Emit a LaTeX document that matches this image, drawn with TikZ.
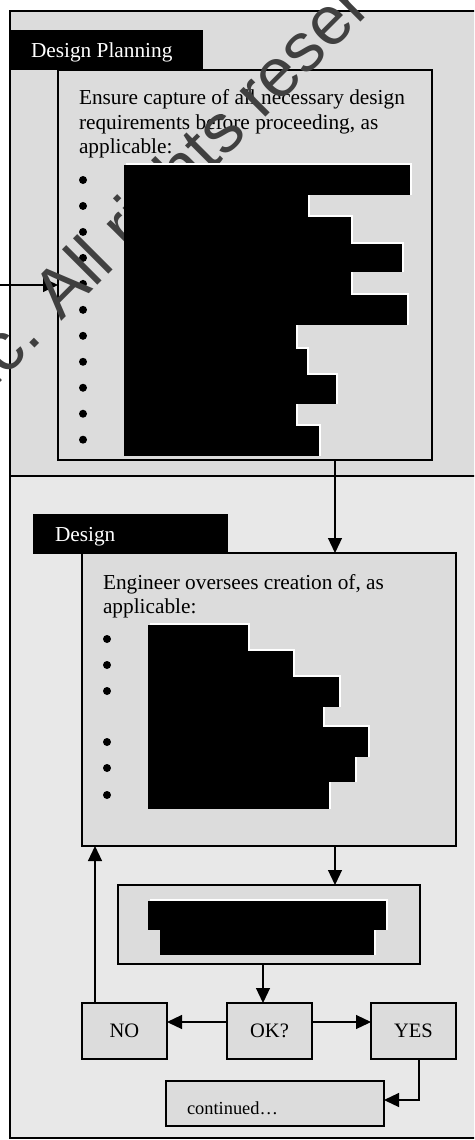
\documentclass[tikz,border=0pt]{standalone}
\usepackage{fontspec}
\setmainfont{Liberation Serif}
\newfontfamily\wmfont{Liberation Sans}
\usetikzlibrary{arrows.meta}
\definecolor{panelA}{HTML}{DCDCDC}
\definecolor{panelB}{HTML}{E8E8E8}
\definecolor{boxfill}{HTML}{DCDCDC}
\definecolor{wmark}{HTML}{404040}
\begin{document}
\begin{tikzpicture}[x=1pt,y=-1pt,
  every node/.style={font=\fontsize{21.3}{24.5}\selectfont},
  box/.style={draw=black, line width=1.2pt, fill=boxfill, inner sep=0pt, outer sep=0pt, rectangle},
  arr/.style={line width=1.2pt, -{Triangle[length=15pt,width=14pt]}},
  hdr/.style={fill=black, inner sep=0pt, outer sep=0pt, rectangle, anchor=north west},
  txt/.style={anchor=base west, inner sep=0pt, outer sep=0pt},
  bul/.style={circle, fill=black, inner sep=0pt, minimum size=8pt},
  small/.style={font=\fontsize{20.5}{24}\selectfont},
  panel/.style={line width=1.3pt},
]
\useasboundingbox (0,0) rectangle (474,1140);
\clip (0,0) rectangle (474,1140);

% panels
\fill[panelA] (10,11) rectangle (480,476);
\fill[panelB] (10,476) rectangle (480,1138);
\draw[panel] (480,11) -- (10,11) -- (10,1138) -- (480,1138);
\draw[panel] (10,476) -- (480,476);

% boxes
\node[box, minimum width=374pt, minimum height=390pt] (b1) at (245,265) {};
\node[box, minimum width=374pt, minimum height=293pt] (b2) at (269,699.5) {};
\node[box, minimum width=302pt, minimum height=79pt] (b3) at (269,924.5) {};
\node[box, small, minimum width=85pt, minimum height=56pt] (no) at (124.5,1031) {NO};
\node[box, small, minimum width=85pt, minimum height=56pt] (ok) at (269.5,1031) {OK?};
\node[box, small, minimum width=85pt, minimum height=56pt] (yes) at (413.5,1031) {YES};
\node[box, minimum width=218pt, minimum height=45pt] (cont) at (275,1103.5) {};
\node[txt, font=\fontsize{18.4}{22}\selectfont] (contt) at (187,1114) {continued\ldots};

% headers
\node[hdr, minimum width=193pt, minimum height=40pt] (h1) at (10,30) {};
\node[txt, text=white] (h1t) at (31,57) {Design Planning};
\node[hdr, minimum width=195pt, minimum height=40pt] (h2) at (33,514) {};
\node[txt, text=white] (h2t) at (55,541) {Design};

% texts
\node[txt] (t1a) at (79,104) {Ensure capture of all necessary design};
\node[txt] (t1b) at (79,129) {requirements before proceeding, as};
\node[txt] (t1c) at (79,153) {applicable:};
\node[txt] (t2a) at (103,589) {Engineer oversees creation of, as};
\node[txt] (t2b) at (103,613) {applicable:};

% bullets
\foreach \i in {0,...,10} \node[bul] (pa\i) at (83,{180+25.97*\i}) {};
\foreach \yy [count=\i] in {639,665,691,742,768,795} \node[bul] (pb\i) at (107,\yy) {};

% connectors
\coordinate (src) at (0,285);
\draw[arr] (src) -- (src -| b1.west);
\draw[arr] (335,0 |- b1.south) -- (335,0 |- b2.north);
\draw[arr] (335,0 |- b2.south) -- (335,0 |- b3.north);
\draw[arr] (263,0 |- b3.south) -- (263,0 |- ok.north);
\draw[arr] (ok.west |- 0,1022) -- (no.east |- 0,1022);
\draw[arr] (ok.east |- 0,1022) -- (yes.west |- 0,1022);
\draw[arr] (95,0 |- no.north) -- (95,0 |- b2.south);
\draw[arr] (419,0 |- yes.south) |- (cont.east |- 0,1100);

% watermark
\node[anchor=base west, rotate=45, text=wmark, inner sep=0pt,
      font=\wmfont\fontsize{69}{69}\selectfont] (wm) at (-35,418) {Inc. All rights reserved.};

% redactions
\foreach \t/\b/\r in {165/195/410,195/217/308,217/244/351,244/272/402,272/295/351,295/325/407,325/349/296,349/375/307,375/404/336,404/426/296,426/456/319}
  \fill[white] (126,{\t-1.6}) rectangle ({\r+1.6},\b);
\foreach \t/\b/\r in {165/195/410,195/217/308,217/244/351,244/272/402,272/295/351,295/325/407,325/349/296,349/375/307,375/404/336,404/426/296,426/456/319}
  \fill[black] (124,\t) rectangle (\r,\b);
\foreach \t/\b/\r in {625/651/248,651/677/293,677/707/339,707/727/323,727/757/368,757/782/355,782/809/329}
  \fill[white] (150,{\t-1.6}) rectangle ({\r+1.6},\b);
\foreach \t/\b/\r in {625/651/248,651/677/293,677/707/339,707/727/323,727/757/368,757/782/355,782/809/329}
  \fill[black] (148,\t) rectangle (\r,\b);
\fill[white] (150,899.4) rectangle (387.6,930);
\fill[white] (162,928.4) rectangle (375.6,955);
\fill[black] (148,901) rectangle (386,930);
\fill[black] (160,930) rectangle (374,955);
\end{tikzpicture}
\end{document}
